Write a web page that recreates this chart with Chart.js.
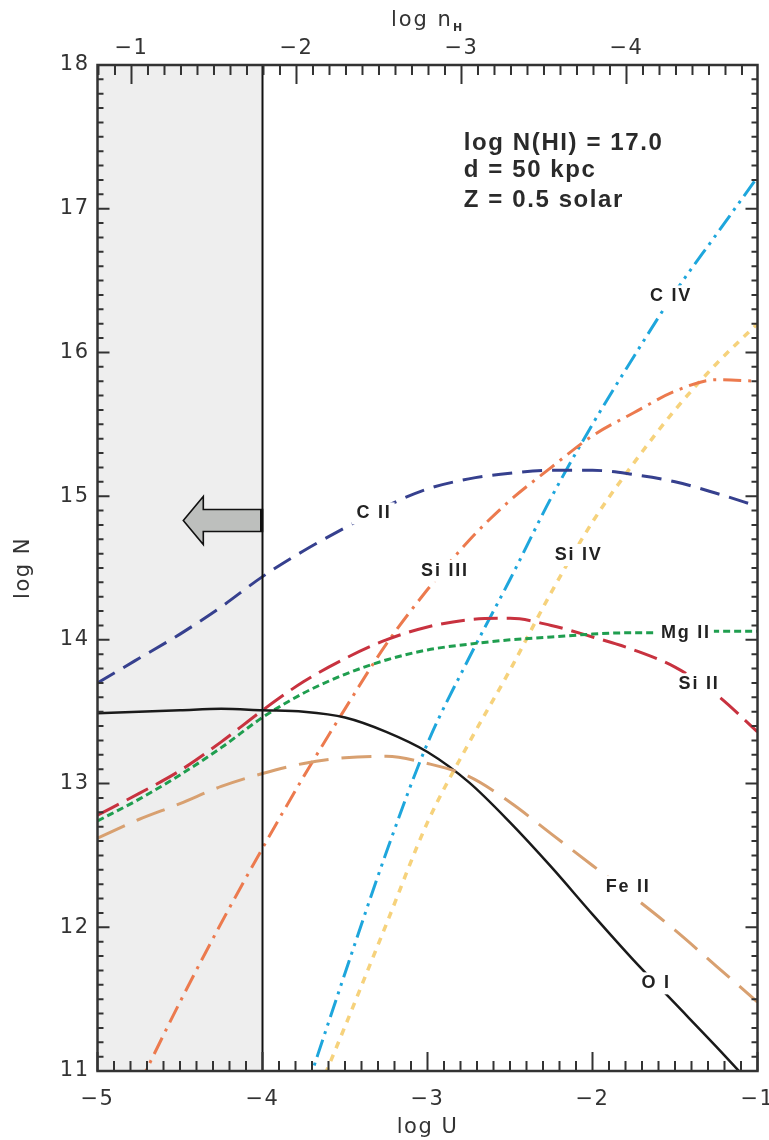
<!DOCTYPE html>
<html>
<head>
<meta charset="utf-8">
<script src="https://cdn.jsdelivr.net/npm/chart.js@4/dist/chart.umd.min.js"></script>
<style>
html,body{margin:0;padding:0;background:#fff;}
#wrap{width:769px;height:1140px;}
</style>
</head>
<body>
<div id="wrap"><canvas id="c" width="769" height="1140"></canvas></div>
<script>
// ---------- data ----------
const uTicks = [-5, -4, -3, -2, -1];
const nHTicks = [-1, -2, -3, -4];
const nTicks = [11, 12, 13, 14, 15, 16, 17, 18];

const uFull  = [-5, -4.75, -4.5, -4.25, -4, -3.75, -3.5, -3.25, -3, -2.75, -2.5, -2.25, -2, -1.75, -1.5, -1.25, -1];
const uSiIII = [-4.75, -4.5, -4.25, -4, -3.75, -3.5, -3.25, -3, -2.75, -2.5, -2.25, -2, -1.75, -1.5, -1.25, -1];
const uCIV   = [-3.75, -3.5, -3.25, -3, -2.75, -2.5, -2.25, -2, -1.75, -1.5, -1.25, -1];
const uSiIV  = [-3.75, -3.5, -3.25, -3, -2.75, -2.5, -2.25, -2, -1.75, -1.5, -1.25, -1];

const nCII   = [13.70, 13.87, 14.04, 14.23, 14.44, 14.62, 14.78, 14.93, 15.05, 15.12, 15.16, 15.18, 15.18, 15.15, 15.10, 15.02, 14.93];
const nSiII  = [12.78, 12.93, 13.09, 13.29, 13.51, 13.71, 13.87, 14.00, 14.09, 14.14, 14.15, 14.10, 14.02, 13.93, 13.81, 13.62, 13.36];
const nMgII  = [12.74, 12.89, 13.06, 13.25, 13.46, 13.63, 13.76, 13.86, 13.93, 13.97, 14.00, 14.02, 14.04, 14.05, 14.05, 14.06, 14.06];
const nOI    = [13.49, 13.50, 13.51, 13.52, 13.51, 13.50, 13.46, 13.36, 13.22, 13.01, 12.73, 12.42, 12.09, 11.77, 11.47, 11.17, 10.86];
const nFeII  = [12.62, 12.75, 12.86, 12.98, 13.07, 13.14, 13.18, 13.19, 13.14, 13.05, 12.87, 12.65, 12.43, 12.21, 11.98, 11.73, 11.48];
const nSiIII = [10.90, 11.48, 12.03, 12.55, 13.05, 13.52, 13.97, 14.35, 14.69, 14.97, 15.20, 15.42, 15.58, 15.73, 15.81, 15.80];
const nCIV   = [10.82, 11.68, 12.52, 13.28, 13.87, 14.42, 14.99, 15.50, 15.97, 16.42, 16.82, 17.22];
const nSiIV  = [10.62, 11.31, 12.02, 12.73, 13.28, 13.79, 14.33, 14.82, 15.23, 15.60, 15.92, 16.20];

const ionLabels = ['C II', 'Si III', 'Si IV', 'C IV', 'Mg II', 'Si II', 'Fe II', 'O I'];
const ionLabelU = [-3.33, -2.90, -2.09, -1.53, -1.44, -1.36, -1.79, -1.62];
const ionLabelN = [14.88, 14.48, 14.59, 16.39, 14.05, 13.69, 12.28, 11.61];

const noteLines = ['log N(HI) = 17.0', 'd = 50 kpc', 'Z = 0.5 solar'];
const noteU = -2.78;
const noteN = [17.41, 17.22, 17.01];

const shadeU = [-5, -4];
const limitU = -4;
const arrowFromU = -4, arrowToU = -4.48, arrowN = 14.83;

const uRange = [-5, -1];
const nHRange = [-4.794, -0.794];
const nRange = [11, 18];

// ---------- styles ----------
const FONT_AX = "'DejaVu Sans', sans-serif";
const FONT_LB = "'Liberation Sans', Arial, sans-serif";
const AX_COLOR = '#333333';

function series(label, us, ns, color, dash, width) {
  return {
    label: label,
    data: us.map((u, i) => ({x: u, y: ns[i]})),
    borderColor: color,
    backgroundColor: color,
    borderDash: dash,
    borderWidth: width,
    pointRadius: 0,
    fill: false,
    cubicInterpolationMode: 'monotone',
    clip: 0,
    xAxisID: 'x',
    yAxisID: 'y'
  };
}

const datasets = [
  series('Fe II', uFull, nFeII, '#d8a070', [30, 13], 3),
  series('O I', uFull, nOI, '#1a1a1a', [], 2.5),
  series('Mg II', uFull, nMgII, '#1f9e4f', [7, 4], 3),
  series('Si II', uFull, nSiII, '#c8323f', [24, 9], 3),
  series('C II', uFull, nCII, '#36408e', [20, 10], 3),
  series('Si III', uSiIII, nSiIII, '#ec7a4e', [18, 7, 3, 7], 3),
  series('Si IV', uSiIV, nSiIV, '#f6d27c', [7, 7], 3.5),
  series('C IV', uCIV, nCIV, '#1ea6dc', [18, 6, 3, 6, 3, 6], 3)
];

const minus = v => (v < 0 ? '\u2212' + Math.abs(v) : String(v));

const deco = {
  id: 'deco',
  beforeDraw(chart) {
    chart.ctx.letterSpacing = '1.5px';
  },
  beforeDatasetsDraw(chart) {
    const {ctx, chartArea: a, scales: {x}} = chart;
    const x0 = x.getPixelForValue(shadeU[0]);
    const x1 = x.getPixelForValue(shadeU[1]);
    ctx.save();
    ctx.fillStyle = '#eeeeee';
    ctx.fillRect(x0, a.top, x1 - x0, a.bottom - a.top);
    ctx.restore();
  },
  afterDatasetsDraw(chart) {
    const {ctx, chartArea: a, scales: {x, y}} = chart;
    ctx.save();
    // limit line
    const xl = x.getPixelForValue(limitU);
    ctx.strokeStyle = '#111';
    ctx.lineWidth = 2;
    ctx.beginPath();
    ctx.moveTo(xl, a.top);
    ctx.lineTo(xl, a.bottom);
    ctx.stroke();
    // arrow
    const ax0 = x.getPixelForValue(arrowFromU);
    const ax1 = x.getPixelForValue(arrowToU);
    const ay = y.getPixelForValue(arrowN);
    const sh = 11, hh = 24, hl = 20;
    ctx.beginPath();
    ctx.moveTo(ax0, ay - sh);
    ctx.lineTo(ax1 + hl, ay - sh);
    ctx.lineTo(ax1 + hl, ay - hh);
    ctx.lineTo(ax1, ay);
    ctx.lineTo(ax1 + hl, ay + hh);
    ctx.lineTo(ax1 + hl, ay + sh);
    ctx.lineTo(ax0, ay + sh);
    ctx.closePath();
    ctx.fillStyle = '#bdbfbd';
    ctx.fill();
    ctx.lineWidth = 1.6;
    ctx.lineJoin = 'miter';
    ctx.strokeStyle = '#111';
    ctx.stroke();
    ctx.lineWidth = 3;
    ctx.beginPath();
    ctx.moveTo(ax0 - 1, ay - sh);
    ctx.lineTo(ax0 - 1, ay + sh);
    ctx.stroke();

    // ion labels
    ctx.font = 'bold 18px ' + FONT_LB;
    ctx.letterSpacing = '1.8px';
    ctx.textAlign = 'center';
    ctx.textBaseline = 'middle';
    ionLabels.forEach((t, i) => {
      const px = x.getPixelForValue(ionLabelU[i]);
      const py = y.getPixelForValue(ionLabelN[i]);
      const w = ctx.measureText(t).width;
      ctx.fillStyle = '#ffffff';
      ctx.fillRect(px - w / 2 - 4, py - 11, w + 8, 22);
      ctx.fillStyle = '#222';
      ctx.fillText(t, px + 1, py);
    });

    // note
    ctx.font = 'bold 24px ' + FONT_LB;
    ctx.letterSpacing = '1.6px';
    ctx.textAlign = 'left';
    ctx.textBaseline = 'alphabetic';
    ctx.fillStyle = '#2a2a2a';
    noteLines.forEach((t, i) => {
      ctx.fillText(t, x.getPixelForValue(noteU), y.getPixelForValue(noteN[i]));
    });
    ctx.restore();
  },
  afterDraw(chart) {
    const {ctx, chartArea: a, scales: {x, x2, y}} = chart;
    ctx.save();
    ctx.strokeStyle = AX_COLOR;
    ctx.lineWidth = 2;
    ctx.beginPath();
    // bottom ticks (log U)
    for (let k = 0; k <= 40; k++) {
      const v = uRange[0] + k / 10;
      const p = x.getPixelForValue(v);
      const L = (k % 10 === 0) ? 19 : 10;
      ctx.moveTo(p, a.bottom);
      ctx.lineTo(p, a.bottom - L);
    }
    // top ticks (log nH)
    for (let k = 8; k <= 48; k++) {
      const v = -k / 10;
      if (v < nHRange[0] || v > nHRange[1]) continue;
      const p = x2.getPixelForValue(v);
      const L = (k % 10 === 0) ? 19 : 10;
      ctx.moveTo(p, a.top);
      ctx.lineTo(p, a.top + L);
    }
    // left/right ticks (log N)
    for (let k = 110; k <= 180; k++) {
      const p = y.getPixelForValue(k / 10);
      const L = (k % 10 === 0) ? 12 : 6;
      ctx.moveTo(a.left, p);
      ctx.lineTo(a.left + L, p);
      ctx.moveTo(a.right, p);
      ctx.lineTo(a.right - L, p);
    }
    ctx.stroke();
    ctx.lineWidth = 2.5;
    ctx.strokeRect(a.left, a.top, a.right - a.left, a.bottom - a.top);

    // top axis title: log n_H
    ctx.fillStyle = AX_COLOR;
    ctx.letterSpacing = '2px';
    ctx.textAlign = 'left';
    ctx.textBaseline = 'alphabetic';
    ctx.font = '21px ' + FONT_AX;
    const t1 = 'log n';
    const w1 = ctx.measureText(t1).width;
    ctx.font = 'bold 11px ' + FONT_AX;
    const w2 = ctx.measureText('H').width;
    const sx = (a.left + a.right) / 2 - (w1 + w2) / 2;
    ctx.font = '21px ' + FONT_AX;
    ctx.fillText(t1, sx, 26);
    ctx.font = 'bold 11px ' + FONT_AX;
    ctx.fillText('H', sx + w1, 31);
    ctx.restore();
  }
};

const tickFont = {family: FONT_AX, size: 21, lineHeight: 1.2};
const titleFont = {family: FONT_AX, size: 21, lineHeight: 1.2};

new Chart(document.getElementById('c'), {
  type: 'line',
  data: {datasets: datasets},
  options: {
    responsive: false,
    devicePixelRatio: 1,
    animation: false,
    layout: {padding: {left: 0, right: 11.5, top: 0, bottom: 0}},
    plugins: {legend: {display: false}, tooltip: {enabled: false}},
    scales: {
      x: {
        type: 'linear', position: 'bottom', min: uRange[0], max: uRange[1],
        afterBuildTicks: s => { s.ticks = uTicks.map(v => ({value: v})); },
        afterFit: s => { s.height = 69; s.paddingLeft = 0; s.paddingRight = 0; },
        grid: {display: false, drawTicks: false},
        border: {display: false},
        ticks: {padding: 16, color: AX_COLOR, font: tickFont, maxRotation: 0, callback: v => minus(v)},
        title: {display: true, text: 'log U', color: AX_COLOR, font: titleFont, padding: {top: 0, bottom: 0}}
      },
      x2: {
        type: 'linear', position: 'top', min: nHRange[0], max: nHRange[1], reverse: true,
        afterBuildTicks: s => { s.ticks = nHTicks.map(v => ({value: v})); },
        afterFit: s => { s.height = 65; s.paddingLeft = 0; s.paddingRight = 0; },
        grid: {display: false, drawTicks: false},
        border: {display: false},
        ticks: {padding: 4, color: AX_COLOR, font: tickFont, maxRotation: 0, callback: v => minus(v)},
      },
      y: {
        type: 'linear', position: 'left', min: nRange[0], max: nRange[1],
        afterBuildTicks: s => { s.ticks = nTicks.map(v => ({value: v})); },
        afterFit: s => { s.width = 97.5; s.paddingTop = 0; s.paddingBottom = 0; },
        grid: {display: false, drawTicks: false},
        border: {display: false},
        ticks: {padding: 8, color: AX_COLOR, font: tickFont, callback: v => minus(v)},
        title: {display: true, text: 'log N', color: AX_COLOR, font: titleFont, padding: {top: 11, bottom: 0}}
      }
    }
  },
  plugins: [deco]
});
</script>
</body>
</html>
